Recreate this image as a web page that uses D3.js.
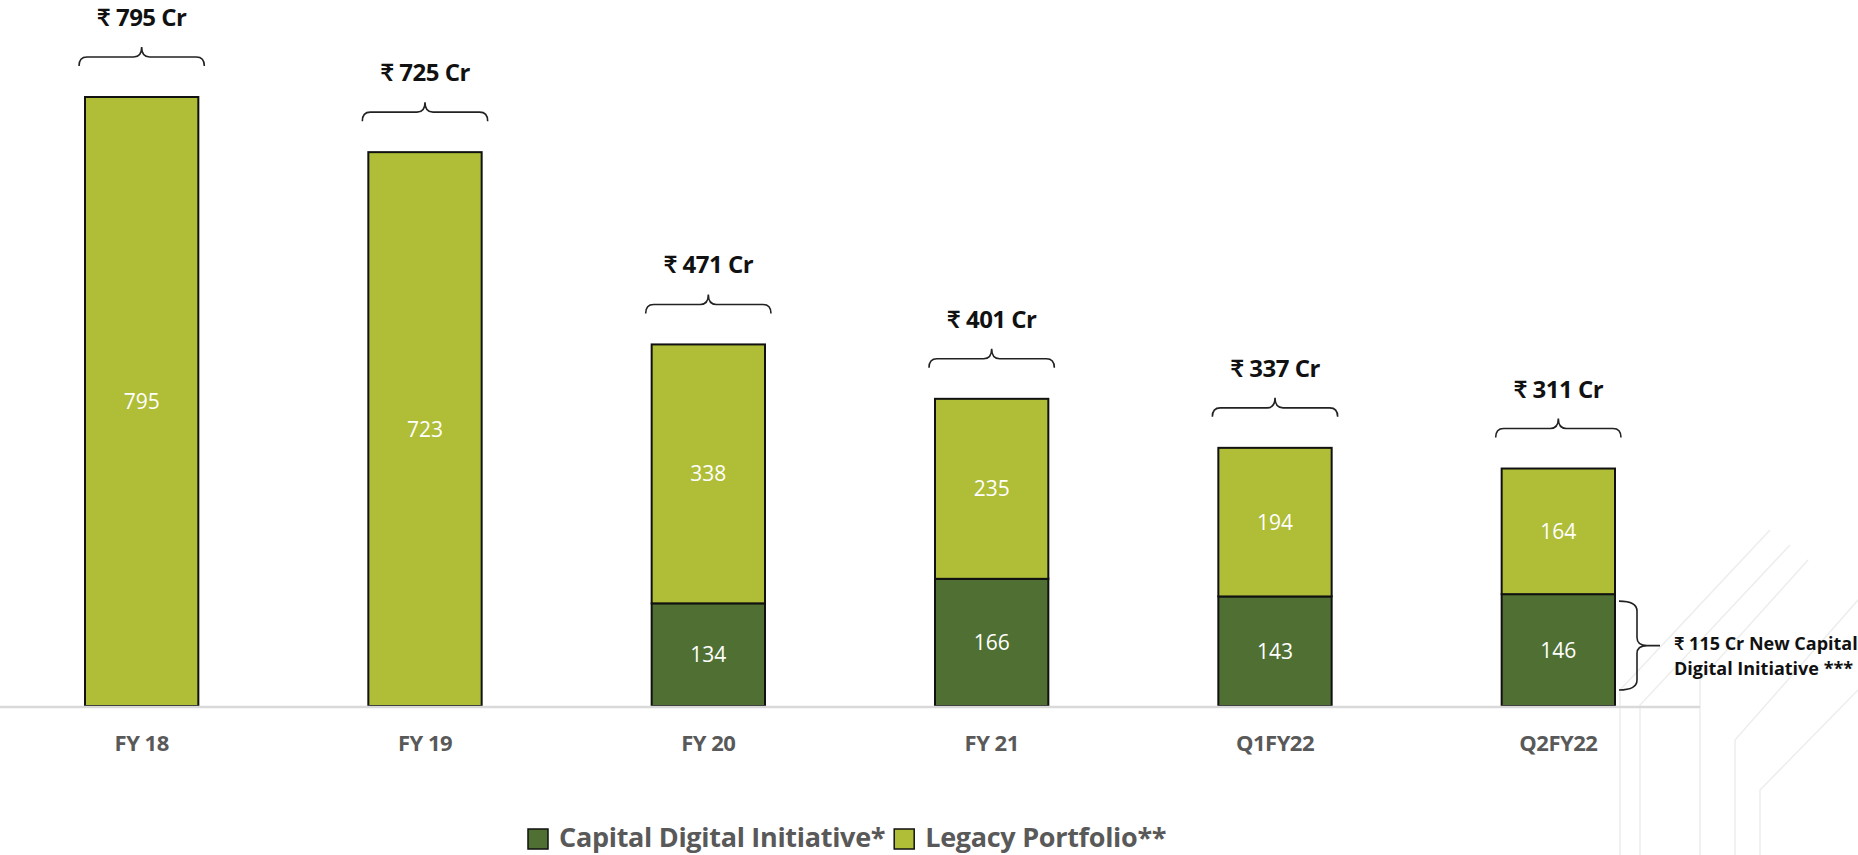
<!DOCTYPE html>
<html>
<head>
<meta charset="utf-8">
<script src="https://cdn.jsdelivr.net/npm/d3@7"></script>
<style>
  html, body { margin: 0; padding: 0; background: #ffffff; }
  svg { display: block; font-family: "Open Sans", Lato, sans-serif; }
</style>
</head>
<body>
<div id="chart"></div>
<script>
// data
const categories = ["FY 18", "FY 19", "FY 20", "FY 21", "Q1FY22", "Q2FY22"];
const digital = [0, 0, 134, 166, 143, 146];
const legacy = [795, 723, 338, 235, 194, 164];
const totalLabels = ["₹ 795 Cr", "₹ 725 Cr", "₹ 471 Cr", "₹ 401 Cr", "₹ 337 Cr", "₹ 311 Cr"];
const seriesNames = ["Capital Digital Initiative*", "Legacy Portfolio**"];
const noteLines = ["₹ 115 Cr New Capital", "Digital Initiative ***"];

const width = 1858, height = 855;
const colors = {digital: "#507033", legacy: "#afbd37"};

const svg = d3.select("#chart").append("svg")
    .attr("width", width)
    .attr("height", height);

// faint background decoration (bottom right)
const deco = svg.append("g")
    .attr("fill", "none")
    .attr("stroke", "#eceeec")
    .attr("stroke-width", 1.5);
[[1770, 530, 1620, 690, 1620, 855], [1790, 545, 1640, 705, 1640, 855], [1808, 560, 1700, 680, 1700, 855],
 [1858, 690, 1760, 790, 1760, 855], [1858, 600, 1735, 740, 1735, 855]].forEach(function(p) {
    deco.append("path").attr("d", d3.line()([[p[0], p[1]], [p[2], p[3]], [p[4], p[5]]]));
});

const data = categories.map(function(c, i) {
    return {name: c, digital: digital[i], legacy: legacy[i], total: totalLabels[i]};
});

// scales
const x = d3.scaleBand()
    .domain(categories)
    .range([0, 1700])
    .paddingInner(0.6)
    .paddingOuter(0.3);
const y = d3.scaleLinear()
    .domain([0, d3.max(data, function(d) { return d.digital + d.legacy; })])
    .range([706, 97]);

const stack = d3.stack().keys(["digital", "legacy"]);
const stacked = stack(data);

// bars
const layers = svg.selectAll(".layer")
    .data(stacked)
    .enter().append("g")
    .attr("class", "layer")
    .attr("fill", function(d) { return colors[d.key]; });

layers.selectAll("rect")
    .data(function(d) { return d.filter(function(s) { return s[1] > s[0]; }); })
    .enter().append("rect")
    .attr("x", function(d) { return x(d.data.name); })
    .attr("width", x.bandwidth())
    .attr("y", function(d) { return y(d[1]); })
    .attr("height", function(d) { return y(d[0]) - y(d[1]); })
    .attr("stroke", "#111")
    .attr("stroke-width", 2);

layers.selectAll("text")
    .data(function(d) { return d.filter(function(s) { return s[1] > s[0]; }); })
    .enter().append("text")
    .attr("x", function(d) { return x(d.data.name) + x.bandwidth() / 2; })
    .attr("y", function(d) { return (y(d[0]) + y(d[1])) / 2; })
    .attr("dy", "0.36em")
    .attr("text-anchor", "middle")
    .attr("fill", "#ffffff")
    .style("font-size", "21px")
    .text(function(d) { return d[1] - d[0]; });

// x axis
const xAxis = svg.append("g")
    .attr("transform", "translate(0,707)")
    .call(d3.axisBottom(x).tickSize(0).tickPadding(28));
xAxis.select(".domain").attr("stroke", "#d9d9d9").attr("stroke-width", 2.5).attr("d", "M0,0H1700");
xAxis.selectAll("text")
    .attr("fill", "#595959")
    .style("font-size", "22px")
    .style("font-weight", "bold")
    .style("font-family", "'Open Sans', Lato, sans-serif")
    .style("letter-spacing", "-0.5px");

// brace above each bar with total label
function hBrace(x0, x1, yl) {
    const xc = (x0 + x1) / 2, r = 8;
    return "M" + x0 + "," + (yl + 9) +
        "Q" + x0 + "," + yl + " " + (x0 + r) + "," + yl +
        "H" + (xc - r) +
        "Q" + xc + "," + yl + " " + xc + "," + (yl - 10) +
        "Q" + xc + "," + yl + " " + (xc + r) + "," + yl +
        "H" + (x1 - r) +
        "Q" + x1 + "," + yl + " " + x1 + "," + (yl + 9);
}

const tops = svg.selectAll(".total")
    .data(data)
    .enter().append("g")
    .attr("class", "total");

tops.append("path")
    .attr("fill", "none")
    .attr("stroke", "#222")
    .attr("stroke-width", 1.6)
    .attr("d", function(d) {
        const bx = x(d.name);
        return hBrace(bx - 6, bx + x.bandwidth() + 6, y(d.digital + d.legacy) - 40);
    });

tops.append("text")
    .attr("x", function(d) { return x(d.name) + x.bandwidth() / 2; })
    .attr("y", function(d) { return y(d.digital + d.legacy) - 71; })
    .attr("text-anchor", "middle")
    .attr("fill", "#111")
    .style("font-size", "24px")
    .style("font-weight", "bold")
    .style("letter-spacing", "-0.5px")
    .text(function(d) { return d.total; });

// note brace next to last digital segment
const last = data[data.length - 1];
const bxr = x(last.name) + x.bandwidth();
const ny0 = y(last.digital) + 7, ny1 = y(0) - 16, nym = (ny0 + ny1) / 2;
svg.append("path")
    .attr("fill", "none")
    .attr("stroke", "#222")
    .attr("stroke-width", 1.6)
    .attr("d", "M" + (bxr + 4) + "," + ny0 +
        "Q" + (bxr + 22) + "," + ny0 + " " + (bxr + 22) + "," + (ny0 + 10) +
        "V" + (nym - 8) +
        "Q" + (bxr + 22) + "," + nym + " " + (bxr + 32) + "," + nym +
        "H" + (bxr + 45) +
        "M" + (bxr + 32) + "," + nym +
        "Q" + (bxr + 22) + "," + nym + " " + (bxr + 22) + "," + (nym + 8) +
        "V" + (ny1 - 10) +
        "Q" + (bxr + 22) + "," + ny1 + " " + (bxr + 4) + "," + ny1);

svg.append("g").selectAll("text")
    .data(noteLines)
    .enter().append("text")
    .attr("x", bxr + 59)
    .attr("y", function(d, i) { return nym + 4 + i * 25; })
    .attr("fill", "#111")
    .style("font-size", "18px")
    .style("font-weight", "bold")
    .text(function(d) { return d; });

// legend
const legend = svg.append("g").attr("transform", "translate(527,828)");
let lx = 0;
seriesNames.forEach(function(name, i) {
    const item = legend.append("g").attr("transform", "translate(" + lx + ",0)");
    item.append("rect")
        .attr("x", 1).attr("y", 1)
        .attr("width", 20).attr("height", 20)
        .attr("fill", i === 0 ? colors.digital : colors.legacy)
        .attr("stroke", "#111")
        .attr("stroke-width", 1.5);
    const t = item.append("text")
        .attr("x", 32)
        .attr("y", 19)
        .attr("fill", "#595959")
        .style("font-size", "27px")
        .style("font-weight", "bold")
        .style("letter-spacing", "-0.3px")
        .text(name);
    lx += 32 + t.node().getComputedTextLength() + 8;
});
</script>
</body>
</html>
